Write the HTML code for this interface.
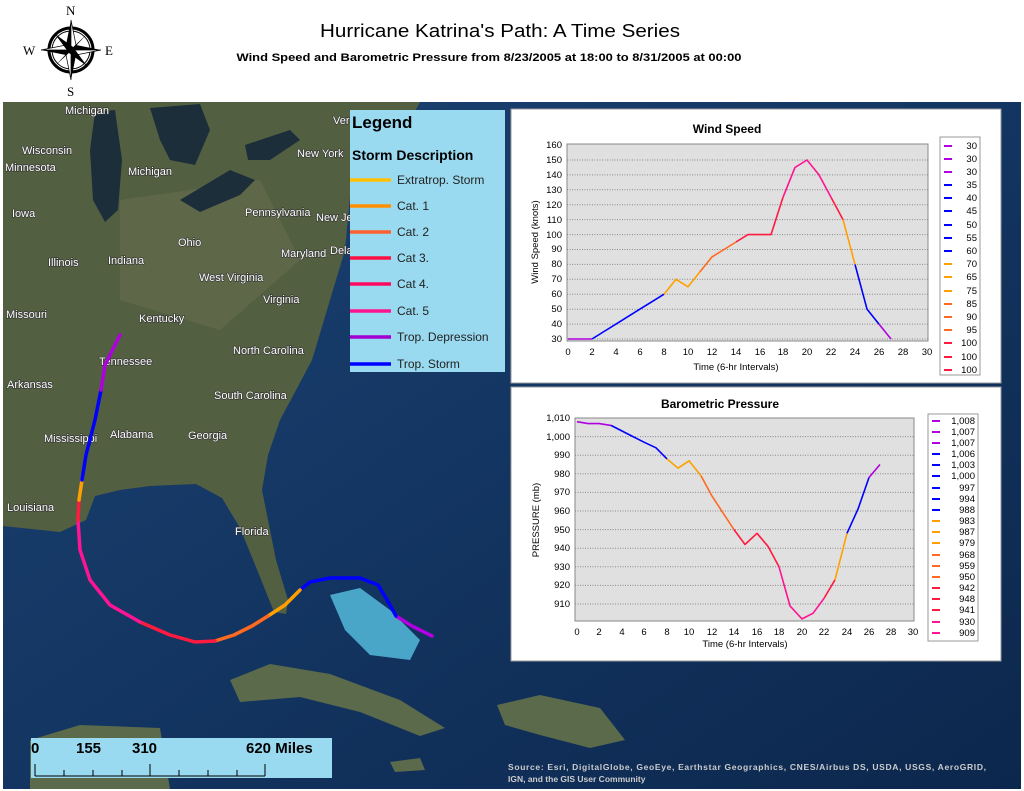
<!DOCTYPE html>
<html><head><meta charset="utf-8"><style>
html,body{margin:0;padding:0;background:#fff;width:1024px;height:791px;overflow:hidden}
svg{display:block;font-family:"Liberation Sans",sans-serif}
.ml{fill:#fff;font-size:11px;paint-order:stroke;stroke:#333;stroke-width:1.2px}
.tk{font-size:9.5px;fill:#000}
.lg{font-size:9.5px;fill:#000;text-anchor:end}
</style></head><body>
<svg width="1024" height="791" viewBox="0 0 1024 791" xmlns="http://www.w3.org/2000/svg">
<defs>
<linearGradient id="oc" x1="0" y1="0" x2="1" y2="1"><stop offset="0" stop-color="#1d4475"/><stop offset="0.5" stop-color="#133561"/><stop offset="1" stop-color="#0c274d"/></linearGradient>
</defs>
<rect width="1024" height="791" fill="#fff"/>
<!-- map -->
<rect x="3" y="102" width="1018" height="687" fill="url(#oc)"/>
<polygon fill="#535f41" points="3,102 420,102 400,140 352,175 345,250 330,300 312,360 295,392 280,420 268,455 262,490 268,520 276,560 288,600 286,614 274,612 258,572 240,528 222,498 196,484 150,486 120,490 95,496 86,520 60,532 3,526"/>
<polygon fill="#5e6849" points="120,200 260,180 300,260 220,330 120,300"/>
<!-- lakes -->
<polygon fill="#1c2e3a" points="95,112 115,110 122,160 118,210 105,222 93,200 90,150"/>
<polygon fill="#1c2e3a" points="150,108 200,104 210,130 195,165 170,160 160,140"/>
<polygon fill="#1c2e3a" points="180,200 230,170 255,180 240,195 200,212"/>
<polygon fill="#1c2e3a" points="245,145 290,130 300,140 270,160 248,160"/>
<!-- shallow seas / islands -->
<polygon fill="#4aa6c8" points="330,595 360,588 390,610 420,640 410,660 370,655 345,630"/>
<polygon fill="#5a6a4a" points="230,680 270,664 330,674 400,700 445,728 420,736 360,712 300,697 240,702"/>
<polygon fill="#5a6a4a" points="497,705 540,695 600,708 625,740 590,748 540,735 505,725"/>
<polygon fill="#5a6a4a" points="30,740 80,725 160,728 170,789 30,789"/>
<polygon fill="#5a6a4a" points="390,762 420,758 425,770 395,772"/>
<!-- map labels -->
<g class="ml">
<text x="65" y="114">Michigan</text><text x="22" y="154">Wisconsin</text><text x="5" y="171">Minnesota</text>
<text x="128" y="175">Michigan</text><text x="12" y="217">Iowa</text><text x="48" y="266">Illinois</text>
<text x="108" y="264">Indiana</text><text x="178" y="246">Ohio</text><text x="245" y="216">Pennsylvania</text>
<text x="297" y="157">New York</text><text x="316" y="221">New Je</text><text x="281" y="257">Maryland</text>
<text x="330" y="254">Dela</text><text x="199" y="281">West Virginia</text><text x="263" y="303">Virginia</text>
<text x="139" y="322">Kentucky</text><text x="6" y="318">Missouri</text><text x="99" y="365">Tennessee</text>
<text x="233" y="354">North Carolina</text><text x="7" y="388">Arkansas</text><text x="214" y="399">South Carolina</text>
<text x="44" y="442">Mississippi</text><text x="110" y="438">Alabama</text><text x="188" y="439">Georgia</text>
<text x="7" y="511">Louisiana</text><text x="235" y="535">Florida</text><text x="333" y="124">Ver</text>
</g>
<!-- track -->
<g fill="none" stroke-width="3.5" stroke-linejoin="round" stroke-linecap="round">
<polyline stroke="#b000e0" points="432,636 412,626 396,616"/>
<polyline stroke="#0000ff" points="396,616 386,598 378,585 360,578 330,578 310,582 300,590"/>
<polyline stroke="#ffa000" points="300,590 285,605 268,616"/>
<polyline stroke="#ff6a20" points="268,616 252,626 234,635 215,641"/>
<polyline stroke="#ff1a40" points="215,641 195,642 170,635 140,622"/>
<polyline stroke="#ff1493" points="140,622 110,605 90,580 80,550 78,520"/>
<polyline stroke="#ff1a40" points="78,520 79,500"/>
<polyline stroke="#ffa000" points="79,500 82,480"/>
<polyline stroke="#0000ff" points="82,480 86,455 95,420 101,390"/>
<polyline stroke="#b000e0" points="101,390 105,365 120,335"/>
</g>
<!-- map legend -->
<rect x="350" y="110" width="155" height="262" fill="#99daf0"/>
<text x="352" y="128" font-size="17" font-weight="bold">Legend</text>
<text x="352" y="160" font-size="14" font-weight="bold">Storm Description</text>
<g stroke-width="3.5">
<line x1="350" x2="391" y1="180" y2="180" stroke="#ffc000"/><line x1="350" x2="391" y1="206" y2="206" stroke="#ff9000"/>
<line x1="350" x2="391" y1="232" y2="232" stroke="#ff6030"/><line x1="350" x2="391" y1="258" y2="258" stroke="#ff1040"/>
<line x1="350" x2="391" y1="284" y2="284" stroke="#ff0860"/><line x1="350" x2="391" y1="311" y2="311" stroke="#ff1490"/>
<line x1="350" x2="391" y1="337" y2="337" stroke="#a000d0"/><line x1="350" x2="391" y1="364" y2="364" stroke="#0000ff"/>
</g>
<g font-size="12" fill="#222">
<text x="397" y="184">Extratrop. Storm</text><text x="397" y="210">Cat. 1</text><text x="397" y="236">Cat. 2</text>
<text x="397" y="262">Cat 3.</text><text x="397" y="288">Cat 4.</text><text x="397" y="315">Cat. 5</text>
<text x="397" y="341">Trop. Depression</text><text x="397" y="368">Trop. Storm</text>
</g>
<!-- scale bar -->
<rect x="31" y="738" width="301" height="40" fill="#99daf0"/>
<text x="31" y="753" font-size="15" font-weight="bold">0</text>
<text x="76" y="753" font-size="15" font-weight="bold">155</text>
<text x="132" y="753" font-size="15" font-weight="bold">310</text>
<text x="246" y="753" font-size="15" font-weight="bold">620 Miles</text>
<g stroke="#000" stroke-width="1"><line x1="35" x2="265" y1="776" y2="776"/>
<line x1="35" x2="35" y1="764" y2="776"/><line x1="64" x2="64" y1="770" y2="776"/><line x1="93" x2="93" y1="770" y2="776"/><line x1="122" x2="122" y1="770" y2="776"/><line x1="150" x2="150" y1="764" y2="776"/><line x1="179" x2="179" y1="770" y2="776"/><line x1="208" x2="208" y1="770" y2="776"/><line x1="237" x2="237" y1="770" y2="776"/><line x1="265" x2="265" y1="764" y2="776"/></g>
<text x="508" y="770" font-size="8.5" font-weight="bold" fill="#ccc" textLength="478">Source: Esri, DigitalGlobe, GeoEye, Earthstar Geographics, CNES/Airbus DS, USDA, USGS, AeroGRID,</text>
<text x="508" y="782" font-size="8.5" font-weight="bold" fill="#ccc">IGN, and the GIS User Community</text>

<!-- wind chart -->
<rect x="511" y="109" width="490" height="274" fill="#fff" stroke="#999"/>
<text x="727" y="133" font-size="12" font-weight="bold" text-anchor="middle">Wind Speed</text>
<rect x="567" y="144" width="361" height="197" fill="#e0e0e0" stroke="#888"/>
<g stroke="#888" stroke-dasharray="1,1.5" stroke-width="1">
<line x1="567" x2="928" y1="324.1" y2="324.1"/><line x1="567" x2="928" y1="309.2" y2="309.2"/><line x1="567" x2="928" y1="294.2" y2="294.2"/><line x1="567" x2="928" y1="279.3" y2="279.3"/><line x1="567" x2="928" y1="264.4" y2="264.4"/><line x1="567" x2="928" y1="249.5" y2="249.5"/><line x1="567" x2="928" y1="234.6" y2="234.6"/><line x1="567" x2="928" y1="219.6" y2="219.6"/><line x1="567" x2="928" y1="204.7" y2="204.7"/><line x1="567" x2="928" y1="189.8" y2="189.8"/><line x1="567" x2="928" y1="174.9" y2="174.9"/><line x1="567" x2="928" y1="160" y2="160"/><line x1="567" x2="928" y1="339" y2="339"/>
</g>
<g class="tk" text-anchor="end">
<text x="562" y="342">30</text><text x="562" y="327">40</text><text x="562" y="312">50</text><text x="562" y="297">60</text><text x="562" y="282">70</text><text x="562" y="267">80</text><text x="562" y="252">90</text><text x="562" y="238">100</text><text x="562" y="223">110</text><text x="562" y="208">120</text><text x="562" y="193">130</text><text x="562" y="178">140</text><text x="562" y="163">150</text><text x="562" y="148">160</text>
</g>
<g class="tk" text-anchor="middle">
<text x="568" y="355">0</text><text x="592" y="355">2</text><text x="616" y="355">4</text><text x="640" y="355">6</text><text x="664" y="355">8</text><text x="688" y="355">10</text><text x="712" y="355">12</text><text x="736" y="355">14</text><text x="760" y="355">16</text><text x="783" y="355">18</text><text x="807" y="355">20</text><text x="831" y="355">22</text><text x="855" y="355">24</text><text x="879" y="355">26</text><text x="903" y="355">28</text><text x="927" y="355">30</text>
</g>
<text x="736" y="370" font-size="9.5" text-anchor="middle">Time (6-hr Intervals)</text>
<text transform="translate(538,242) rotate(-90)" font-size="9.5" text-anchor="middle">Wind Speed (knots)</text>
<g fill="none" stroke-width="1.6" stroke-linejoin="round">
<polyline stroke="#b000e0" points="568,339 580,339 592,339"/>
<polyline stroke="#0000ff" points="592,339 604,331.5 616,324.1 628,316.6 640,309.1 652,301.7 664,294.2"/>
<polyline stroke="#ffa000" points="664,294.2 676,279.3 688,286.8 700,271.8"/>
<polyline stroke="#ff6a20" points="700,271.8 712,256.9 724,249.5 736,242"/>
<polyline stroke="#ff1a40" points="736,242 748,234.6 760,234.6 771,234.6 783,197.3"/>
<polyline stroke="#ff1493" points="783,197.3 795,167.4 807,160 819,174.9 831,197.3"/>
<polyline stroke="#ff1a40" points="831,197.3 843,219.6"/>
<polyline stroke="#ffa000" points="843,219.6 855,264.4"/>
<polyline stroke="#0000ff" points="855,264.4 867,309.1 879,324.1"/>
<polyline stroke="#b000e0" points="879,324.1 891,339"/>
</g>
<rect x="940" y="137" width="40" height="238" fill="#fff" stroke="#999"/>
<g class="lg">
<text x="977" y="149">30</text><text x="977" y="162">30</text><text x="977" y="175">30</text><text x="977" y="188">35</text><text x="977" y="201">40</text><text x="977" y="214">45</text><text x="977" y="228">50</text><text x="977" y="241">55</text><text x="977" y="254">60</text><text x="977" y="267">70</text><text x="977" y="280">65</text><text x="977" y="294">75</text><text x="977" y="307">85</text><text x="977" y="320">90</text><text x="977" y="333">95</text><text x="977" y="346">100</text><text x="977" y="360">100</text><text x="977" y="373">100</text>
</g>
<g stroke-width="2">
<line x1="944" x2="952" y1="146" y2="146" stroke="#b000e0"/><line x1="944" x2="952" y1="159" y2="159" stroke="#b000e0"/><line x1="944" x2="952" y1="172" y2="172" stroke="#b000e0"/>
<line x1="944" x2="952" y1="185" y2="185" stroke="#00f"/><line x1="944" x2="952" y1="198" y2="198" stroke="#00f"/><line x1="944" x2="952" y1="211" y2="211" stroke="#00f"/><line x1="944" x2="952" y1="225" y2="225" stroke="#00f"/><line x1="944" x2="952" y1="238" y2="238" stroke="#00f"/><line x1="944" x2="952" y1="251" y2="251" stroke="#00f"/>
<line x1="944" x2="952" y1="264" y2="264" stroke="#ffa000"/><line x1="944" x2="952" y1="277" y2="277" stroke="#ffa000"/><line x1="944" x2="952" y1="291" y2="291" stroke="#ffa000"/>
<line x1="944" x2="952" y1="304" y2="304" stroke="#ff6a20"/><line x1="944" x2="952" y1="317" y2="317" stroke="#ff6a20"/><line x1="944" x2="952" y1="330" y2="330" stroke="#ff6a20"/>
<line x1="944" x2="952" y1="343" y2="343" stroke="#ff1a40"/><line x1="944" x2="952" y1="357" y2="357" stroke="#ff1a40"/><line x1="944" x2="952" y1="370" y2="370" stroke="#ff1a40"/>
</g>

<!-- pressure chart -->
<rect x="511" y="387" width="490" height="274" fill="#fff" stroke="#999"/>
<text x="720" y="408" font-size="12" font-weight="bold" text-anchor="middle">Barometric Pressure</text>
<rect x="575" y="418" width="339" height="203" fill="#e0e0e0" stroke="#888"/>
<g stroke="#888" stroke-dasharray="1,1.5" stroke-width="1">
<line x1="575" x2="914" y1="436.6" y2="436.6"/><line x1="575" x2="914" y1="455.2" y2="455.2"/><line x1="575" x2="914" y1="473.8" y2="473.8"/><line x1="575" x2="914" y1="492.4" y2="492.4"/><line x1="575" x2="914" y1="511" y2="511"/><line x1="575" x2="914" y1="529.6" y2="529.6"/><line x1="575" x2="914" y1="548.2" y2="548.2"/><line x1="575" x2="914" y1="566.8" y2="566.8"/><line x1="575" x2="914" y1="585.4" y2="585.4"/><line x1="575" x2="914" y1="604" y2="604"/>
</g>
<g class="tk" text-anchor="end">
<text x="570" y="421">1,010</text><text x="570" y="440">1,000</text><text x="570" y="458">990</text><text x="570" y="477">980</text><text x="570" y="495">970</text><text x="570" y="514">960</text><text x="570" y="533">950</text><text x="570" y="551">940</text><text x="570" y="570">930</text><text x="570" y="588">920</text><text x="570" y="607">910</text>
</g>
<g class="tk" text-anchor="middle">
<text x="577" y="635">0</text><text x="599" y="635">2</text><text x="622" y="635">4</text><text x="644" y="635">6</text><text x="667" y="635">8</text><text x="689" y="635">10</text><text x="712" y="635">12</text><text x="734" y="635">14</text><text x="757" y="635">16</text><text x="779" y="635">18</text><text x="802" y="635">20</text><text x="824" y="635">22</text><text x="847" y="635">24</text><text x="869" y="635">26</text><text x="891" y="635">28</text><text x="913" y="635">30</text>
</g>
<text x="745" y="647" font-size="9.5" text-anchor="middle">Time (6-hr Intervals)</text>
<text transform="translate(539,520) rotate(-90)" font-size="9.5" text-anchor="middle">PRESSURE (mb)</text>
<g fill="none" stroke-width="1.6" stroke-linejoin="round">
<polyline stroke="#b000e0" points="577,421.7 588,423.6 599,423.6 611,425.4"/>
<polyline stroke="#0000ff" points="611,425.4 622,431 633,436.6 644,442.2 656,447.8 667,458.9"/>
<polyline stroke="#ffa000" points="667,458.9 678,468.2 689,460.8 701,475.7"/>
<polyline stroke="#ff6a20" points="701,475.7 712,496.1 723,512.9 734,529.6"/>
<polyline stroke="#ff1a40" points="734,529.6 745,544.5 757,533.3 768,546.3 779,566.8"/>
<polyline stroke="#ff1493" points="779,566.8 790,605.9 802,618.9 813,613.3 824,598.4"/>
<polyline stroke="#ff1a40" points="824,598.4 835,579.8"/>
<polyline stroke="#ffa000" points="835,579.8 847,533.3"/>
<polyline stroke="#0000ff" points="847,533.3 858,509.1 869,477.5"/>
<polyline stroke="#b000e0" points="869,477.5 880,464.5"/>
</g>
<rect x="928" y="414" width="50" height="227" fill="#fff" stroke="#999"/>
<g class="lg">
<text x="975" y="424">1,008</text><text x="975" y="435">1,007</text><text x="975" y="446">1,007</text><text x="975" y="457">1,006</text><text x="975" y="468">1,003</text><text x="975" y="479">1,000</text><text x="975" y="491">997</text><text x="975" y="502">994</text><text x="975" y="513">988</text><text x="975" y="524">983</text><text x="975" y="535">987</text><text x="975" y="546">979</text><text x="975" y="558">968</text><text x="975" y="569">959</text><text x="975" y="580">950</text><text x="975" y="591">942</text><text x="975" y="602">948</text><text x="975" y="613">941</text><text x="975" y="625">930</text><text x="975" y="636">909</text>
</g>
<g stroke-width="2">
<line x1="932" x2="940" y1="421" y2="421" stroke="#b000e0"/><line x1="932" x2="940" y1="432" y2="432" stroke="#b000e0"/><line x1="932" x2="940" y1="443" y2="443" stroke="#b000e0"/>
<line x1="932" x2="940" y1="454" y2="454" stroke="#00f"/><line x1="932" x2="940" y1="465" y2="465" stroke="#00f"/><line x1="932" x2="940" y1="476" y2="476" stroke="#00f"/><line x1="932" x2="940" y1="488" y2="488" stroke="#00f"/><line x1="932" x2="940" y1="499" y2="499" stroke="#00f"/><line x1="932" x2="940" y1="510" y2="510" stroke="#00f"/>
<line x1="932" x2="940" y1="521" y2="521" stroke="#ffa000"/><line x1="932" x2="940" y1="532" y2="532" stroke="#ffa000"/><line x1="932" x2="940" y1="543" y2="543" stroke="#ffa000"/>
<line x1="932" x2="940" y1="555" y2="555" stroke="#ff6a20"/><line x1="932" x2="940" y1="566" y2="566" stroke="#ff6a20"/><line x1="932" x2="940" y1="577" y2="577" stroke="#ff6a20"/>
<line x1="932" x2="940" y1="588" y2="588" stroke="#ff1a40"/><line x1="932" x2="940" y1="599" y2="599" stroke="#ff1a40"/><line x1="932" x2="940" y1="610" y2="610" stroke="#ff1a40"/><line x1="932" x2="940" y1="622" y2="622" stroke="#ff1493"/><line x1="932" x2="940" y1="633" y2="633" stroke="#ff1493"/>
</g>

<!-- header -->
<text x="500" y="37" font-size="18" text-anchor="middle" textLength="360" lengthAdjust="spacingAndGlyphs">Hurricane Katrina's Path: A Time Series</text>
<text x="489" y="61" font-size="11" font-weight="bold" text-anchor="middle" textLength="505" lengthAdjust="spacingAndGlyphs">Wind Speed and Barometric Pressure from 8/23/2005 at 18:00 to 8/31/2005 at 00:00</text>
<!-- compass -->
<g transform="translate(71,50)">
<circle r="22" fill="none" stroke="#000" stroke-width="3"/>
<circle r="19" fill="none" stroke="#000" stroke-width="1"/>
<polygon points="0,-30 5,-5 30,0 5,5 0,30 -5,5 -30,0 -5,-5" fill="#000"/>
<polygon points="0,-30 5,-5 0,0" fill="#fff" stroke="#000" stroke-width="0.7"/>
<polygon points="30,0 5,5 0,0" fill="#fff" stroke="#000" stroke-width="0.7"/>
<polygon points="0,30 -5,5 0,0" fill="#fff" stroke="#000" stroke-width="0.7"/>
<polygon points="-30,0 -5,-5 0,0" fill="#fff" stroke="#000" stroke-width="0.7"/>
<polygon points="16,-16 3,-2 -16,16 -3,2" fill="#000"/>
<polygon points="-16,-16 -2,3 16,16 2,-3" fill="#000"/>
</g>
<g font-family="Liberation Serif,serif" font-size="13">
<text x="66" y="15">N</text><text x="23" y="55">W</text><text x="105" y="55">E</text><text x="67" y="96">S</text>
</g>
</svg>
</body></html>
